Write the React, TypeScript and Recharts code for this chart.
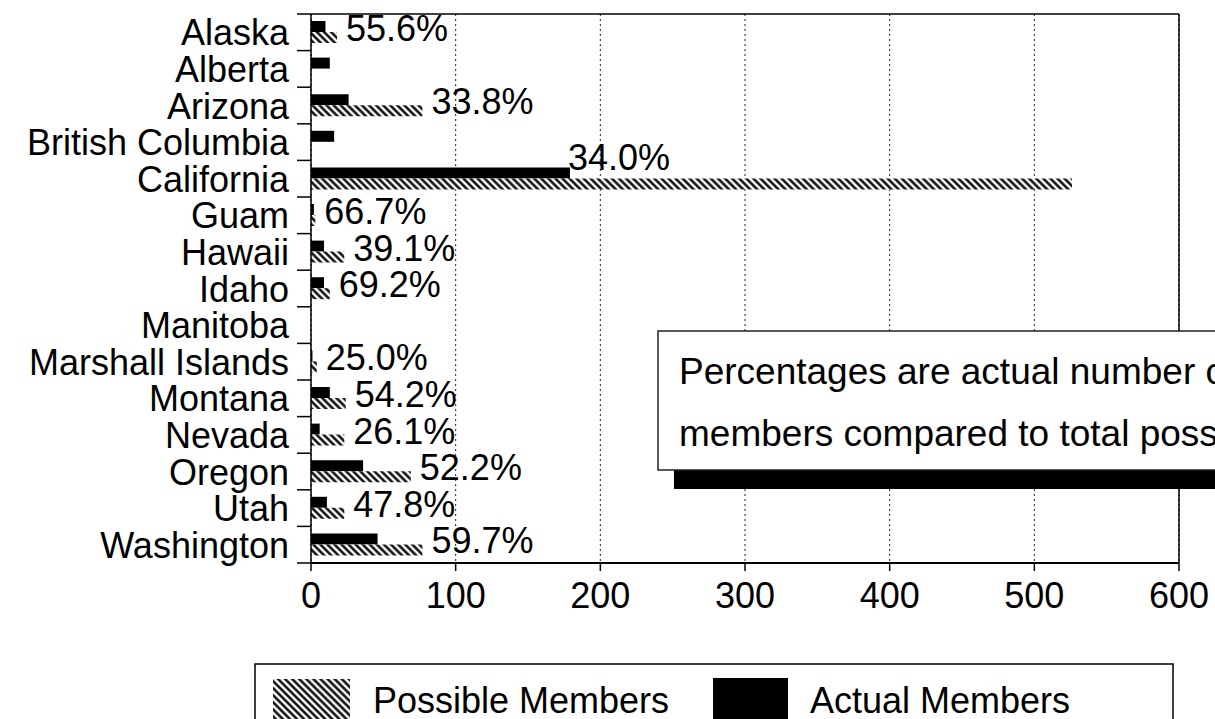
import React from 'react';
import { BarChart, Bar, XAxis, YAxis, CartesianGrid, ReferenceLine, LabelList } from 'recharts';

const categories = [
  'Alaska', 'Alberta', 'Arizona', 'British Columbia', 'California', 'Guam', 'Hawaii', 'Idaho',
  'Manitoba', 'Marshall Islands', 'Montana', 'Nevada', 'Oregon', 'Utah', 'Washington',
];
const actualMembers = [10, 13, 26, 16, 179, 2, 9, 9, 0, 1, 13, 6, 36, 11, 46];
const possibleMembers = [18, 0, 77, 0, 526, 3, 23, 13, 0, 4, 24, 23, 69, 23, 77];
const xTicks = [0, 100, 200, 300, 400, 500, 600];
const seriesNames = { possible: 'Possible Members', actual: 'Actual Members' };
const noteLines = ['Percentages are actual number of', 'members compared to total possible members.'];

const data = categories.map((name, i) => ({ name, actual: actualMembers[i], possible: possibleMembers[i] }));

const W = 1215;
const H = 719;
const FONT = '"Liberation Sans", Arial, Helvetica, sans-serif';
const MARGIN = { top: 14, right: 36, bottom: 96, left: 0 };
const Y_WIDTH = 311;
const X_HEIGHT = 60;
const PLOT_LEFT = MARGIN.left + Y_WIDTH;
const PLOT_H = H - MARGIN.top - MARGIN.bottom - X_HEIGHT;

const YTick = (props: any) => {
  const { y, payload, index } = props;
  const band = PLOT_H / categories.length;
  return (
    <g>
      <text x={PLOT_LEFT - 22} y={y} dy={13} textAnchor="end" fontSize={36} fontFamily={FONT} fill="#000">
        {payload.value}
      </text>
      <line x1={PLOT_LEFT - 14} x2={PLOT_LEFT} y1={y + band / 2} y2={y + band / 2} stroke="#000" strokeWidth={1.5} />
      {index === 0 ? (
        <line x1={PLOT_LEFT - 14} x2={PLOT_LEFT} y1={y - band / 2} y2={y - band / 2} stroke="#000" strokeWidth={1.5} />
      ) : null}
    </g>
  );
};

const PctLabel = (props: any) => {
  const { x, y, width, value } = props;
  const i = categories.indexOf(String(value));
  if (i < 0) return null;
  const p = possibleMembers[i];
  if (!p) return null;
  const a = actualMembers[i];
  const pct = ((a / p) * 100).toFixed(1) + '%';
  const bx = Number(x);
  const bw = Number(width);
  const by = Number(y);
  let tx = bx + bw + 9;
  let ty = by + 9;
  if (p > 300) {
    tx = bx + (bw * a) / p - 2;
    ty = by - 8;
  }
  return (
    <text x={tx} y={ty} fontSize={36} fontFamily={FONT} fill="#000">
      {pct}
    </text>
  );
};

const HatchDef = ({ id }: { id: string }) => (
  <pattern id={id} patternUnits="userSpaceOnUse" width={5} height={5} patternTransform="rotate(-45)">
    <rect x={0} y={0} width={5} height={5} fill="#fff" />
    <line x1={1.5} y1={0} x2={1.5} y2={5} stroke="#000" strokeWidth={2.4} />
  </pattern>
);

export default function App() {
  return (
    <div style={{ position: 'absolute', left: 0, top: 0, width: W, height: H, background: '#fff', overflow: 'hidden' }}>
      <BarChart
        width={W}
        height={H}
        data={data}
        layout="vertical"
        margin={MARGIN}
        barSize={11}
        barGap={0}
      >
        <defs>
          <HatchDef id="hatchBar" />
        </defs>
        <CartesianGrid horizontal={false} stroke="#222" strokeDasharray="2 3" strokeWidth={1} />
        <CartesianGrid
          vertical={false}
          stroke="#000"
          strokeWidth={1.5}
          horizontalCoordinatesGenerator={(p: any) => [p.offset.top]}
        />
        <XAxis
          type="number"
          domain={[0, 600]}
          ticks={xTicks}
          height={X_HEIGHT}
          axisLine={{ stroke: '#000', strokeWidth: 2 }}
          tickLine={{ stroke: '#000', strokeWidth: 1.5 }}
          tickSize={8}
          tickMargin={11}
          tick={{ fontSize: 36, fontFamily: FONT, fill: '#000' }}
          allowDataOverflow
        />
        <YAxis
          type="category"
          dataKey="name"
          width={Y_WIDTH}
          axisLine={{ stroke: '#000', strokeWidth: 1.5 }}
          tickLine={false}
          tick={<YTick />}
          interval={0}
        />
        <ReferenceLine x={600} stroke="#000" strokeWidth={1.5} />
        <Bar dataKey="actual" name={seriesNames.actual} fill="#000" isAnimationActive={false} />
        <Bar dataKey="possible" name={seriesNames.possible} fill="url(#hatchBar)" isAnimationActive={false}>
          <LabelList dataKey="name" content={<PctLabel />} />
        </Bar>
      </BarChart>
      <svg
        width={W}
        height={H}
        style={{ position: 'absolute', left: 0, top: 0, pointerEvents: 'none' }}
      >
        <defs>
          <HatchDef id="hatchLegend" />
        </defs>
        <rect x={674} y={349} width={600} height={140} fill="#000" />
        <rect x={658} y={331} width={620} height={139} fill="#fff" stroke="#222" strokeWidth={1.5} />
        <text x={679} y={384} fontSize={37} fontFamily={FONT} fill="#000">{noteLines[0]}</text>
        <text x={679} y={446} fontSize={37} fontFamily={FONT} fill="#000">{noteLines[1]}</text>
        <rect x={255} y={664} width={918} height={100} fill="#fff" stroke="#000" strokeWidth={1.5} />
        <rect x={273} y={679} width={77} height={60} fill="url(#hatchLegend)" />
        <text x={373} y={713} fontSize={36} fontFamily={FONT} fill="#000">{seriesNames.possible}</text>
        <rect x={713} y={678} width={75} height={60} fill="#000" />
        <text x={810} y={713} fontSize={36} fontFamily={FONT} fill="#000">{seriesNames.actual}</text>
      </svg>
    </div>
  );
}
